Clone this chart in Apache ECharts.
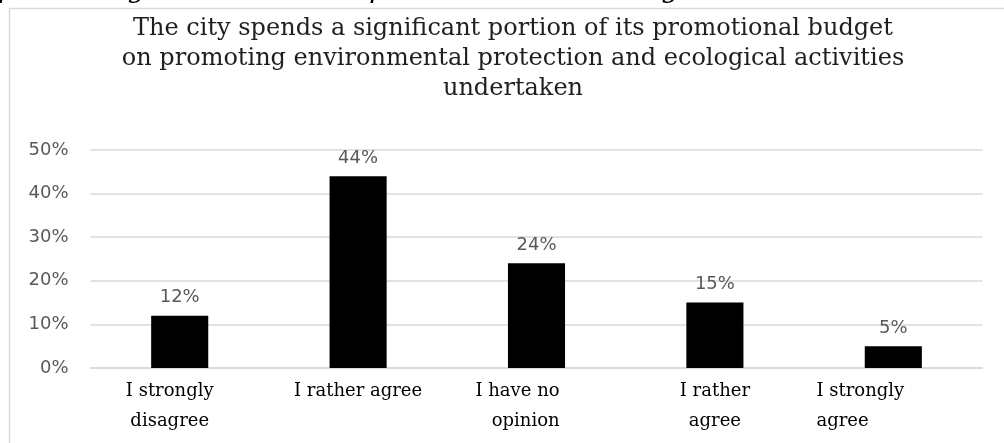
<!DOCTYPE html>
<html>
<head>
<meta charset="utf-8">
<title>Promotional budget survey</title>
<script src="https://cdn.jsdelivr.net/npm/echarts@6/dist/echarts.min.js"></script>
<style>
  html, body { margin: 0; padding: 0; background: #ffffff; }
  #chart { width: 1004px; height: 443px; }
</style>
</head>
<body>
<div id="chart"></div>
<script>
// Survey answers and share of respondents (%)
const categories = [
  'I strongly\ndisagree',
  'I rather agree',
  'I have no\nopinion',
  'I rather\nagree',
  'I strongly\nagree'
];
const shares = [12, 44, 24, 15, 5];
const yTicks = [0, 10, 20, 30, 40, 50];

const titleText = 'The city spends a significant portion of its promotional budget\n' +
  'on promoting environmental protection and ecological activities\nundertaken';
const captionText = 'promoting environmental protection and ecological activities undertaken';

const serif = '"DejaVu Serif", "Liberation Serif", serif';
const sans = '"DejaVu Sans", "Liberation Sans", sans-serif';
const gridGray = '#d9d9d9';
const labelGray = '#595959';

const catFont = { fontFamily: serif, fontSize: 18, color: '#000', lineHeight: 30 };

// Per-category label placement under the bars
const labelStyles = [
  { padding: [0, 20, 0, 0] },
  {},
  { padding: [0, 38, 0, 0], rich: { r: Object.assign({ align: 'right' }, catFont) } },
  {},
  { padding: [0, 66, 0, 0], rich: { l: Object.assign({ align: 'left' }, catFont) } }
];
const richKeys = [null, null, 'r', null, 'l'];

const axisData = categories.map((c, i) => ({
  value: c,
  textStyle: Object.assign({ align: 'center' }, labelStyles[i])
}));

const chart = echarts.init(document.getElementById('chart'), null, { renderer: 'canvas' });

chart.setOption({
  animation: false,
  backgroundColor: '#ffffff',
  graphic: [
    {
      type: 'rect',
      left: 7, top: 6,
      shape: { width: 1100, height: 500 },
      style: { fill: 'none', stroke: gridGray, lineWidth: 1.5 },
      silent: true
    },
    {
      type: 'text',
      left: -2, top: -24,
      style: {
        text: captionText,
        font: 'italic 28px ' + serif,
        fill: '#000'
      },
      silent: true
    }
  ],
  title: {
    text: titleText,
    left: 508,
    textAlign: 'center',
    top: 9,
    textStyle: {
      fontFamily: serif,
      fontSize: 24,
      fontWeight: 'normal',
      color: '#1f1f1f',
      lineHeight: 30
    }
  },
  grid: { left: 90.5, right: 21.5, top: 150, bottom: 75, containLabel: false },
  xAxis: {
    type: 'category',
    data: axisData,
    axisLine: { show: true, lineStyle: { color: gridGray, width: 1.5 } },
    axisTick: { show: false },
    axisLabel: {
      interval: 0,
      margin: 8,
      fontFamily: serif,
      fontSize: 18,
      color: '#000',
      lineHeight: 30,
      formatter: function (value, index) {
        const key = richKeys[index];
        if (!key) return value;
        return value.split('\n').map(s => '{' + key + '|' + s + '}').join('\n');
      }
    }
  },
  yAxis: {
    type: 'value',
    min: yTicks[0],
    max: yTicks[yTicks.length - 1],
    interval: yTicks[1] - yTicks[0],
    axisLine: { show: false },
    axisTick: { show: false },
    splitLine: { lineStyle: { color: gridGray, width: 1.5 } },
    axisLabel: {
      margin: 22,
      fontFamily: sans,
      fontSize: 18,
      color: labelGray,
      formatter: '{value}%'
    }
  },
  series: [{
    type: 'bar',
    data: shares,
    barWidth: '32%',
    itemStyle: { color: '#000000' },
    label: {
      show: true,
      position: 'top',
      distance: 9,
      fontFamily: sans,
      fontSize: 18,
      color: labelGray,
      formatter: '{c}%'
    }
  }]
});
</script>
</body>
</html>
